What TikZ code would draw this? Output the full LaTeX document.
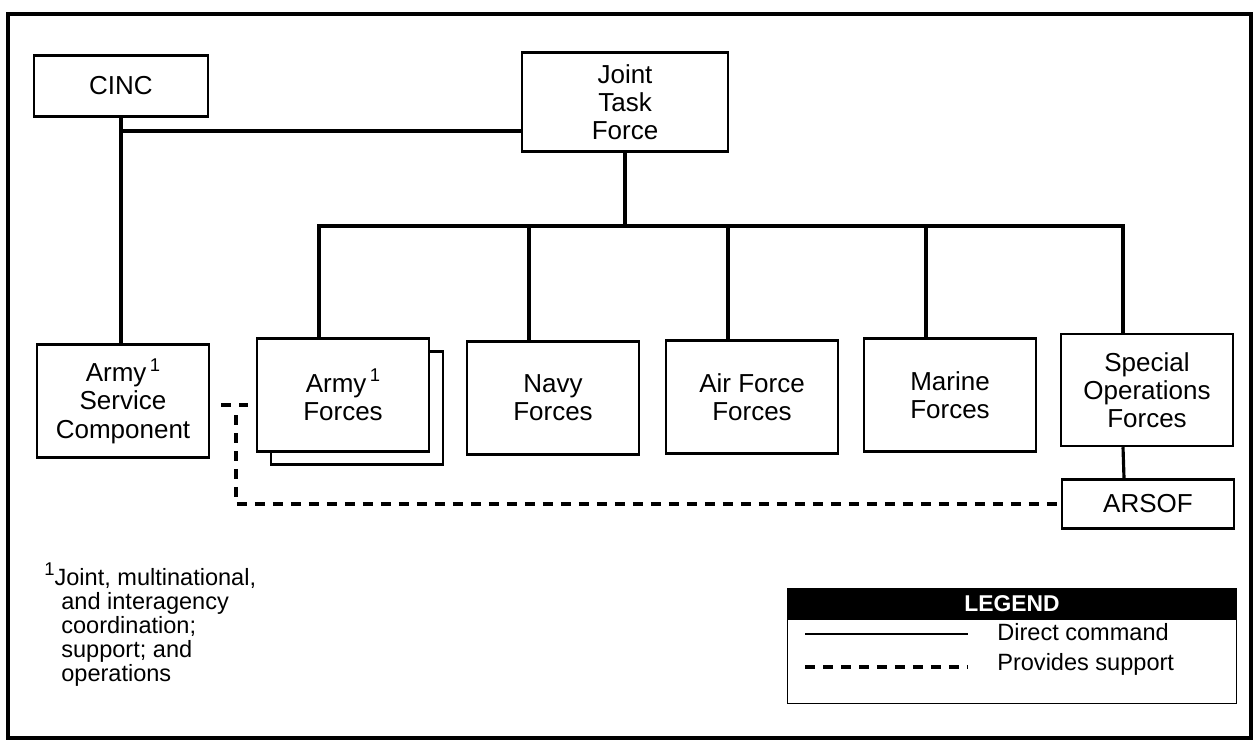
\documentclass[tikz,border=0pt]{standalone}
\usepackage{fontspec}
\setmainfont{Liberation Sans}
\newcommand{\supone}{\raisebox{6pt}{\fontsize{10.5}{10.5}\selectfont 1}}
\begin{document}
\begin{tikzpicture}[x=0.02cm, y=-0.02cm,
    unit/.style={draw, line width=1.4pt, fill=white, minimum width=3.44cm, minimum height=2.26cm,
      align=center, inner sep=2pt, font=\fontsize{14.8}{16}\selectfont},
    cmd/.style={line width=1.8pt},
    supp/.style={line width=2pt, dash pattern=on 0.2cm off 0.16cm},
    legtext/.style={anchor=west, inner sep=0pt, font=\fontsize{13.4}{15}\selectfont}]
                \useasboundingbox (0,0) rectangle (1254,748);

                % Outer frame
                \draw[line width=2.6pt] (8,14) rectangle (1251,738);

                % Top level
                \node[unit, minimum width=3.48cm, minimum height=1.22cm] (cinc) at (121,86) {CINC};
                \node[unit, minimum width=4.12cm, minimum height=1.98cm] (jtf) at (625,102) {Joint\\Task\\Force};

                % Components
                \node[unit] (asc) at (123,401) {Army\hspace{2pt}\supone\\Service\\Component};
                \node[unit] (armyback) at (357,408) {};
                \node[unit] (army) at (343,395) {Army\hspace{2pt}\supone\\Forces};
                \node[unit] (navy) at (553,398) {Navy\\Forces};
                \node[unit] (air) at (752,397) {Air Force\\Forces};
                \node[unit] (marine) at (950,395) {Marine\\Forces};
                \node[unit, minimum height=2.24cm] (sof) at (1147,390) {Special\\Operations\\Forces};
                \node[unit, minimum height=0.98cm] (arsof) at (1148,504) {ARSOF};

                % Direct command
                \coordinate (cj) at (121,131);
                \coordinate (bus) at (625,226);
                \draw[cmd] (cinc.south) -- (cinc.south |- asc.north);
                \draw[cmd] (cj) -- (cj -| jtf.west);
                \draw[cmd] (jtf.south) -- (bus);
                \foreach \u in {army,navy,air,marine,sof}
                    \draw[cmd] ([xshift=-0.48cm]\u.north) |- (bus);
                \draw[cmd] ([xshift=-0.48cm]sof.south) -- ([xshift=-0.48cm]arsof.north);

                % Provides support
                \coordinate (sup) at (236,405);
                \draw[supp, shorten <=0.22cm, shorten >=0.16cm] (sup -| asc.east) -- (sup -| army.west);
                \draw[supp, shorten <=0.2cm] (sup) |- (arsof.west);

                % Footnote
                \node[anchor=north west, align=left, inner sep=0pt, font=\fontsize{13.4}{13.7}\selectfont] (note) at (44,562)
                    {\supone Joint, multinational,\\\hspace*{0.34cm}and interagency\\\hspace*{0.34cm}coordination;\\\hspace*{0.34cm}support; and\\\hspace*{0.34cm}operations};

                % Legend
                \node[draw, line width=1pt, minimum width=8.98cm, minimum height=2.3cm] (legend) at (1012,646) {};
                \node[fill=black, text=white, anchor=north, minimum width=8.98cm, minimum height=0.64cm, inner sep=0pt,
                    font=\bfseries\fontsize{13}{15}\selectfont] (lhead) at (legend.north) {LEGEND};
                \draw[line width=1.2pt] (805,634) -- (968,634);
                \draw[supp] (805,667) -- (968,667);
                \node[legtext] (ldirect) at (997,632) {Direct command};
                \node[legtext] (lsupport) at (997,664) {Provides support};
\end{tikzpicture}
\end{document}
